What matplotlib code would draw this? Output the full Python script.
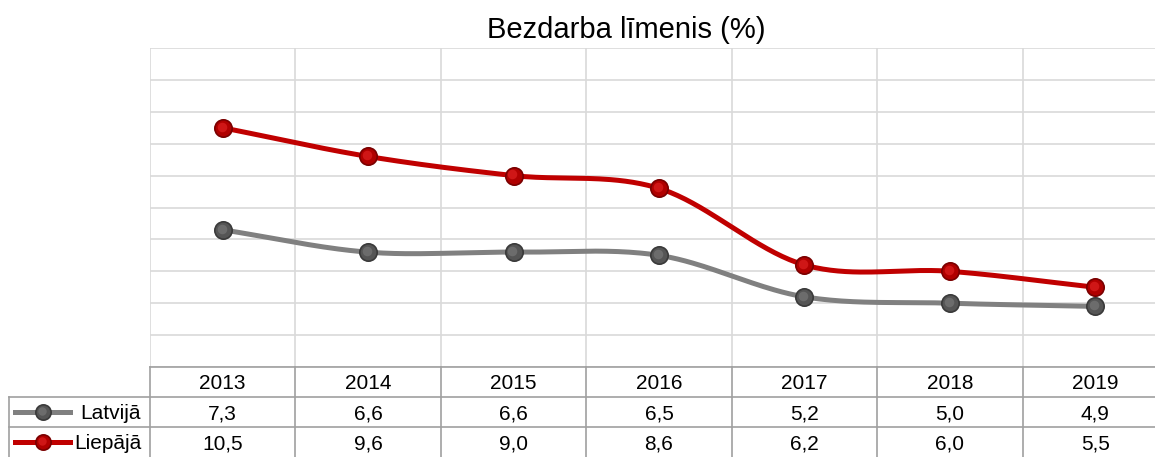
import numpy as np
import matplotlib
matplotlib.use("Agg")
import matplotlib.pyplot as plt
from matplotlib import transforms

plt.rcParams["font.family"] = ["Liberation Sans", "DejaVu Sans"]

TITLE = "Bezdarba līmenis (%)"
YEARS = ["2013", "2014", "2015", "2016", "2017", "2018", "2019"]
LATVIJA = [7.3, 6.6, 6.6, 6.5, 5.2, 5.0, 4.9]
LIEPAJA = [10.5, 9.6, 9.0, 8.6, 6.2, 6.0, 5.5]
SERIES = [
    ("Latvijā", LATVIJA, "#808080", "#555555", "#3a3a3a", "#777777"),
    ("Liepājā", LIEPAJA, "#c00000", "#b00000", "#7a0000", "#dd2020"),
]

W, H = 1155, 457
PLOT_L, PLOT_R, PLOT_T, PLOT_B = 150, 1168, 48, 367
ROW_H = 30
GRID = "#d9d9d9"
TABLE = "#a0a0a0"


def catmull_rom(x, y, n=40):
    # smooth curve through the points, like Excel's "smoothed line"
    x = np.asarray(x, float)
    y = np.asarray(y, float)
    px = np.concatenate([[2 * x[0] - x[1]], x, [2 * x[-1] - x[-2]]])
    py = np.concatenate([[2 * y[0] - y[1]], y, [2 * y[-1] - y[-2]]])
    xs, ys = [], []
    t = np.linspace(0, 1, n)
    for i in range(1, len(px) - 2):
        for p, out in ((px, xs), (py, ys)):
            p0, p1, p2, p3 = p[i - 1], p[i], p[i + 1], p[i + 2]
            out.extend(0.5 * (2 * p1 + (-p0 + p2) * t
                              + (2 * p0 - 5 * p1 + 4 * p2 - p3) * t ** 2
                              + (-p0 + 3 * p1 - 3 * p2 + p3) * t ** 3))
    return np.array(xs), np.array(ys)


def sphere(ax, x, y, face, dark, light, size=12.5, transform=None):
    # shaded ball marker: dark rim, soft lighter core
    tr = transform if transform is not None else ax.transData
    ax.plot(x, y, "o", ms=size, mfc=face, mec=dark, mew=1.2,
            transform=tr, zorder=5)
    hl = transforms.offset_copy(tr, fig=ax.figure, x=-0.8, y=0.8, units="points")
    ax.plot(x, y, "o", ms=size * 0.55, mfc=light, mec="none", alpha=0.7,
            transform=hl, zorder=6)


fig = plt.figure(figsize=(W / 100, H / 100), dpi=100)
ax = fig.add_axes([PLOT_L / W, (H - PLOT_B) / H,
                   (PLOT_R - PLOT_L) / W, (PLOT_B - PLOT_T) / H])
n = len(YEARS)
xs = np.arange(n)
ax.set_xlim(-0.5, n - 0.5)
ax.set_ylim(3, 13)
ax.set_yticks(np.arange(3, 14, 1))
ax.set_xticks(np.arange(-0.5, n, 1))
ax.grid(True, color=GRID, lw=1.2)
ax.tick_params(length=0, labelbottom=False, labelleft=False)
for s in ax.spines.values():
    s.set_visible(False)
ax.set_axisbelow(True)

for name, vals, line_c, face, dark, light in SERIES:
    cx, cy = catmull_rom(xs, vals)
    ax.plot(cx, cy, color=line_c, lw=3.6, solid_capstyle="round", zorder=3)
    sphere(ax, xs, vals, face, dark, light)

fig.text(626.5 / W, 1 - 37.5 / H, TITLE, ha="center", va="baseline", fontsize=21)

# data table under the plot, columns aligned with the categories
col_w = (PLOT_R - PLOT_L) / n
tab = fig.add_axes([0, 0, PLOT_R / W, 3 * ROW_H / H])
tab.set_xlim(-0.5 - PLOT_L / col_w, n - 0.5)
tab.set_ylim(0, 3)
tab.axis("off")


def px2x(px):
    return -0.5 + (px - PLOT_L) / col_w


left = px2x(9)
tab.plot([-0.5, n - 0.5], [3, 3], color=TABLE, lw=1.2, clip_on=False)
for yy in (2, 1):
    tab.plot([left, n - 0.5], [yy, yy], color=TABLE, lw=1.2, clip_on=False)
tab.plot([left, left], [0, 2], color=TABLE, lw=1.2)
for b in np.arange(-0.5, n, 1):
    tab.plot([b, b], [0, 3], color=TABLE, lw=1.2, clip_on=False)

base = 3 - (389 - PLOT_B) / ROW_H
for i, yr in enumerate(YEARS):
    tab.text(i, base, yr, ha="center", va="baseline", fontsize=15)
for r, (name, vals, line_c, face, dark, light) in enumerate(SERIES):
    yb = base - (r + 1)
    ym = 1.5 - r
    for i, v in enumerate(vals):
        tab.text(i, yb, f"{v:.1f}".replace(".", ","), ha="center",
                 va="baseline", fontsize=15)
    tab.plot([px2x(15), px2x(70)], [ym, ym], color=line_c, lw=3.6)
    sphere(tab, [px2x(43)], [ym], face, dark, light, size=11)
    tab.text(px2x(141), yb, name, ha="right", va="baseline", fontsize=15)

fig.savefig("out.png", dpi=100)
